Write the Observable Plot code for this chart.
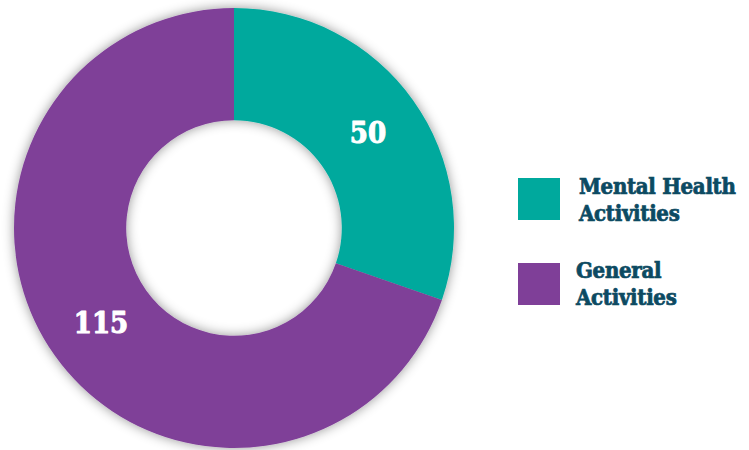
<!DOCTYPE html>
<html>
<head>
<meta charset="utf-8">
<script src="https://cdn.jsdelivr.net/npm/d3@7"></script>
<script src="https://cdn.jsdelivr.net/npm/@observablehq/plot@0.6"></script>
<style>
  html, body { margin: 0; padding: 0; background: #fff; }
  #wrap { position: relative; width: 749px; height: 450px; overflow: hidden; }
  .sw { position: absolute; width: 42px; height: 42px; }
  .lt { position: absolute; font-family: "DejaVu Serif Condensed", "DejaVu Serif", serif; font-stretch: condensed;
        font-weight: bold; font-size: 22px; line-height: 27px; color: #0c4a62; letter-spacing: -0.3px; white-space: nowrap;
        -webkit-text-stroke: 0.7px #0c4a62; }
</style>
</head>
<body>
<div id="wrap"></div>
<script>
const categories = ["Mental Health Activities", "General Activities"];
const legendLines = [["Mental Health", "Activities"], ["General", "Activities"]];
const values = [50, 115];
const colors = ["#00a99d", "#7f3f98"];

const data = categories.map((c, i) => ({category: c, value: values[i]}));
const INNER = 0.49; // inner radius as fraction of outer

const pie = d3.pie().value(d => d.value).sort(null);
const arcs = pie(data);
// label positions in data units (unit circle), from arc centroid
const unitArc = d3.arc().innerRadius(INNER).outerRadius(1);
const labels = arcs.map(a => {
  const [cx, cy] = unitArc.centroid(a);
  return {x: cx, y: -cy, value: a.data.value};
});

const colorScale = Plot.scale({color: {domain: categories, range: colors}});

const donut = (index, scales, values, dimensions, context) => {
  const cx = scales.x(0), cy = scales.y(0);
  const r = scales.x(1) - scales.x(0);
  const arc = d3.arc().innerRadius(r * INNER).outerRadius(r);
  const svg = d3.create("svg:g");
  const defs = svg.append("defs");
  const f = defs.append("filter").attr("id", "shadow")
    .attr("x", "-20%").attr("y", "-20%").attr("width", "140%").attr("height", "140%");
  f.append("feDropShadow").attr("dx", 0).attr("dy", 0).attr("stdDeviation", 6)
    .attr("flood-color", "#000").attr("flood-opacity", 0.42);
  const g = svg.append("g").attr("transform", `translate(${cx},${cy})`).attr("filter", "url(#shadow)");
  g.selectAll("path").data(arcs).join("path")
    .attr("d", arc)
    .attr("fill", d => (scales.color ?? colorScale.apply)(d.data.category));
  return svg.node();
};

const plot = Plot.plot({
  width: 749,
  height: 450,
  margin: 0,
  x: {domain: [-1, 1], range: [14, 454], axis: null},
  y: {domain: [-1, 1], range: [448, 8], axis: null},
  color: {domain: categories, range: colors},
  style: {background: "transparent", overflow: "visible"},
  marks: [
    donut,
    Plot.text(labels, {
      x: "x", y: "y", text: d => String(d.value),
      fill: "white", stroke: "white", strokeWidth: 1, fontSize: 29, fontWeight: "bold",
      fontFamily: "'DejaVu Serif Condensed', 'DejaVu Serif', serif"
    })
  ]
});

const wrap = document.getElementById("wrap");
wrap.appendChild(plot);

// legend
const legendPos = [{sy: 178, tx: 579, ty: 173}, {sy: 263, tx: 576, ty: 257}];
categories.forEach((c, i) => {
  const sw = document.createElement("div");
  sw.className = "sw";
  sw.style.left = "518px";
  sw.style.top = legendPos[i].sy + "px";
  sw.style.background = colorScale.apply(c);
  wrap.appendChild(sw);
  const t = document.createElement("div");
  t.className = "lt";
  t.style.left = legendPos[i].tx + "px";
  t.style.top = legendPos[i].ty + "px";
  t.innerHTML = legendLines[i].join("<br>");
  wrap.appendChild(t);
});
</script>
</body>
</html>
